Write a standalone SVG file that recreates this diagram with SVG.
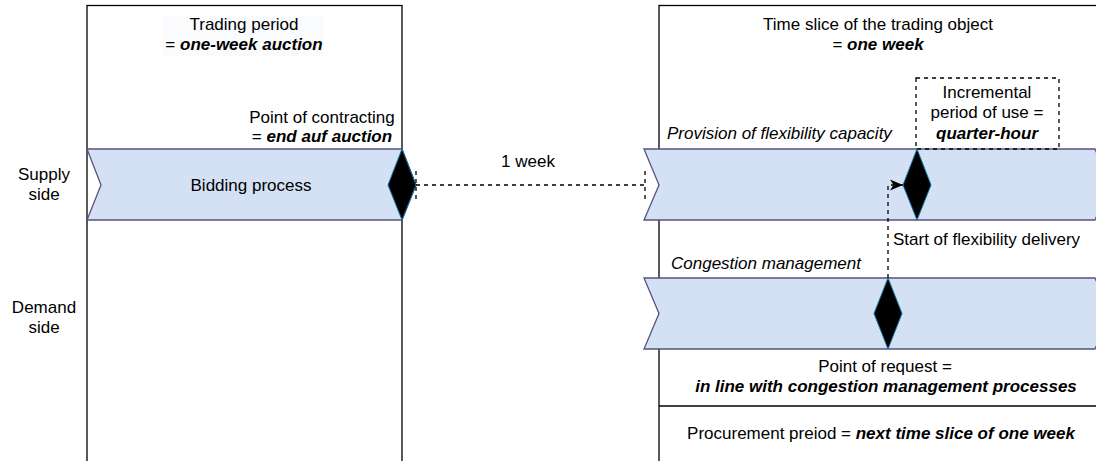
<svg xmlns="http://www.w3.org/2000/svg" width="1096" height="461" viewBox="0 0 1096 461">
<style>
text{font-family:"Liberation Sans",Arial,sans-serif;font-size:17px;fill:#000}
.c{text-anchor:middle}
.bi{font-weight:bold;font-style:italic}
.it{font-style:italic}
.frame{fill:#fff;stroke:#000;stroke-width:1.3}
.step{fill:#d4e1f5;stroke:#56517e;stroke-width:1.3}
.dia{fill:#000;stroke:#10739e;stroke-width:1}
.dash{fill:none;stroke:#000;stroke-width:1.3;stroke-dasharray:4 4}
</style>
<defs>
<marker id="arr" markerWidth="14" markerHeight="12" refX="13" refY="5.5" orient="auto" markerUnits="userSpaceOnUse" viewBox="0 0 14 11">
<path d="M0,0 L13,5.5 L0,11 L3.5,5.5 Z" fill="#000"/>
</marker>
</defs>
<rect width="1096" height="461" fill="#fff"/>

<g id="trading-frame">
<rect class="frame" x="87" y="5.5" width="315" height="470"/>
<rect x="163" y="16" width="161" height="40" fill="#fafbfc"/>
<text class="c" x="244" y="30">Trading period</text>
<text class="c" x="244" y="50">= <tspan class="bi">one-week auction</tspan></text>
</g>

<g id="time-slice-frame">
<rect class="frame" x="659" y="5.5" width="460" height="470"/>
<line x1="659" y1="406" x2="1096" y2="406" stroke="#000" stroke-width="1.3"/>
<text class="c" x="878" y="30">Time slice of the trading object</text>
<text class="c" x="878" y="50">= <tspan class="bi">one week</tspan></text>
<text class="c" x="881" y="439">Procurement preiod = <tspan class="bi">next time slice of one week</tspan></text>
</g>

<g id="lane-labels">
<text class="c" x="44" y="180">Supply</text>
<text class="c" x="44" y="200">side</text>
<text class="c" x="44" y="313">Demand</text>
<text class="c" x="44" y="333">side</text>
</g>

<g id="bidding-process">
<path class="step" d="M87,149 H402 L416,185 L402,220 H87 L101,185 Z"/>
<text class="c" x="251" y="191">Bidding process</text>
</g>

<g id="point-of-contracting">
<text class="c" x="322" y="123">Point of contracting</text>
<text class="c" x="322" y="142">= <tspan class="bi">end auf auction</tspan></text>
<path class="dia" d="M402,149 L416,185 L402,220 L388,185 Z"/>
</g>

<g id="provision">
<path class="step" d="M644,149 H1095 L1110,185 L1095,220 H644 L659,185 Z"/>
<text class="it" x="667" y="139">Provision of flexibility capacity</text>
</g>

<g id="incremental-period">
<rect class="dash" x="916" y="78" width="143" height="71"/>
<text class="c" x="987" y="98">Incremental</text>
<text class="c" x="987" y="118">period of use =</text>
<text class="c bi" x="987" y="139">quarter-hour</text>
</g>

<g id="start-of-delivery">
<path class="dia" d="M917,149 L931,185 L917,220 L903,185 Z"/>
<text x="893" y="245">Start of flexibility delivery</text>
</g>

<g id="congestion-management">
<path class="step" d="M644,278 H1095 L1110,313.5 L1095,349 H644 L659,313.5 Z"/>
<text class="it" x="671" y="269">Congestion management</text>
</g>

<g id="point-of-request">
<path class="dia" d="M888,278 L902,313.5 L888,349 L874,313.5 Z"/>
<text class="c" x="885" y="372">Point of request =</text>
<text class="c bi" x="886" y="392">in line with congestion management processes</text>
</g>

<g id="connectors">
<line class="dash" x1="416" y1="185" x2="645" y2="185"/>
<line class="dash" x1="416" y1="171" x2="416" y2="199"/>
<line class="dash" x1="645" y1="171" x2="645" y2="199"/>
<text class="c" x="528" y="167">1 week</text>
<path class="dash" d="M888,278 V185 H903" marker-end="url(#arr)"/>
</g>
</svg>
